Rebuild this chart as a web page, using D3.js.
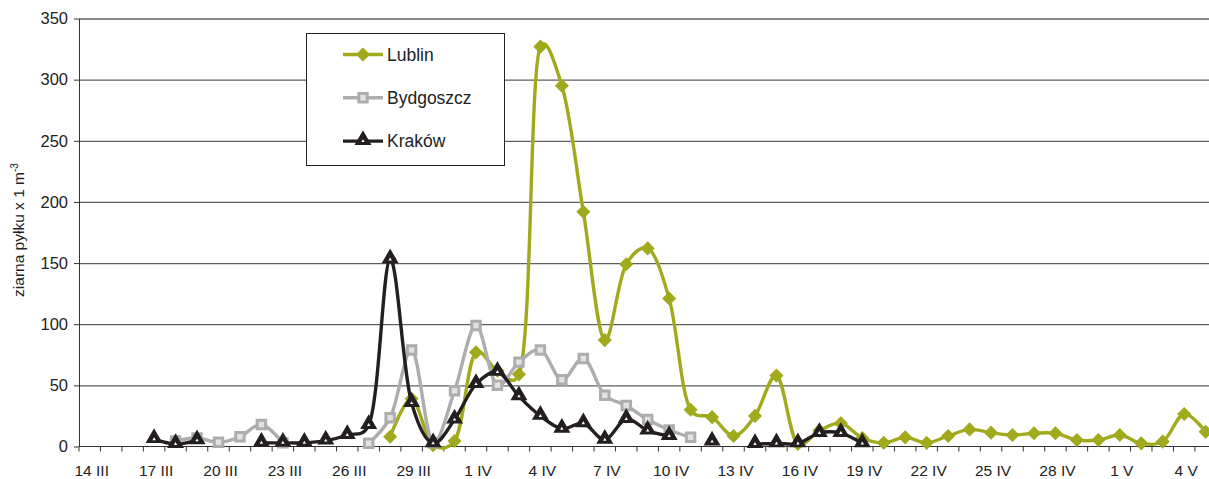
<!DOCTYPE html>
<html lang="pl">
	<head>
		<meta charset="UTF-8" />
		<title>Pyłek</title>
		<script src="https://d3js.org/d3.v7.min.js"></script>
		<style>
			body { margin: 0; background: #fff; }
			svg { display: block; font-family: "Liberation Sans", Arial, sans-serif; }
		</style>
	</head>
	<body>
		<svg id="chart"></svg>
		<script>
			// days 14 III .. 5 V
			var days = [
				"14 III", "15 III", "16 III", "17 III", "18 III", "19 III", "20 III", "21 III", "22 III", "23 III",
				"24 III", "25 III", "26 III", "27 III", "28 III", "29 III", "30 III", "31 III",
				"1 IV", "2 IV", "3 IV", "4 IV", "5 IV", "6 IV", "7 IV", "8 IV", "9 IV", "10 IV",
				"11 IV", "12 IV", "13 IV", "14 IV", "15 IV", "16 IV", "17 IV", "18 IV", "19 IV", "20 IV",
				"21 IV", "22 IV", "23 IV", "24 IV", "25 IV", "26 IV", "27 IV", "28 IV", "29 IV", "30 IV",
				"1 V", "2 V", "3 V", "4 V", "5 V"
			];
			// labelled every 3rd day
			var tickLabels = days.filter(function (d, i) { return i % 3 === 0; });
			var yTicks = [0, 50, 100, 150, 200, 250, 300, 350];

			var lublin = [
				null, null, null, null, null, null, null, null, null, null,
				null, null, null, null, 8, 39, 1, 4.5,
				77, 62, 59, 327, 295, 192, 87, 149, 162, 121,
				30, 24, 8.6, 25, 58, 2, 13, 19, 7, 3,
				7.5, 3, 8.6, 14, 11.3, 9.4, 10.8, 10.8, 5.3, 5.3,
				9.4, 2.6, 4, 26.6, 12
			];
			var bydgoszcz = [
				null, null, null, null, 4.5, 7, 3.4, 8, 18, 3,
				null, null, null, 2.6, 23.6, 79, 3, 45.5,
				99, 50, 69, 79, 54.5, 72, 42, 33.5, 22, 13.5,
				7.5, null, null, null, null, null, null, null, null, null,
				null, null, null, null, null, null, null, null, null, null,
				null, null, null, null, null
			];
			var krakow = [
				null, null, null, 6, 2, 5, null, null, 3, 3,
				3, 4.8, 9.4, 17.6, 153, 35.5, 2.6, 22,
				51, 61, 41, 25, 14.5, 19, 5.5, 22.5, 13, 8.6,
				null, 4, null, 2, 2.5, 2.5, 11, 11, 2.5, null,
				null, null, null, null, null, null, null, null, null, null,
				null, null, null, null, null
			];

			var seriesNames = ["Lublin", "Bydgoszcz", "Kraków"];
			var seriesValues = [lublin, bydgoszcz, krakow];
			var colors = ["#a0aa1c", "#adadad", "#231f20"];

			var width = 1209;
			var height = 479;
			var plotLeft = 79;
			var plotTop = 18.5;
			var plotBottom = 446.5;
			var step = 21.46;

			var svg = d3.select("#chart").attr("width", width).attr("height", height);

			var x = d3.scaleBand().domain(days).range([plotLeft, plotLeft + step * days.length]).padding(0);
			var y = d3.scaleLinear().domain([0, 350]).range([plotBottom, plotTop]);
			var cx = function (i) { return x(days[i]) + x.bandwidth() / 2; };

			// gridlines
			svg.append("g")
				.attr("transform", "translate(" + plotLeft + ",0)")
				.call(d3.axisLeft(y).tickValues(yTicks.slice(1)).tickSize(-(width - plotLeft)).tickFormat(""))
				.call(function (g) {
					g.select(".domain").remove();
					g.selectAll("line").attr("stroke", "#5f5f5f").attr("stroke-width", 1.3);
				});

			// y axis
			svg.append("g")
				.attr("transform", "translate(" + plotLeft + ",0)")
				.call(d3.axisLeft(y).tickValues(yTicks).tickSize(5).tickSizeOuter(0).tickPadding(6))
				.call(function (g) {
					g.select(".domain").attr("stroke", "#333");
					g.selectAll("line").attr("stroke", "#333");
					g.selectAll("text").attr("font-size", 16.5).attr("fill", "#222")
						.attr("font-family", "Liberation Sans, Arial, sans-serif");
				});

			// x axis: ticks between categories
			svg.append("g")
				.attr("transform", "translate(0," + plotBottom + ")")
				.call(d3.axisBottom(x).tickSize(5).tickSizeOuter(0).tickFormat(""))
				.call(function (g) {
					g.select(".domain").attr("stroke", "#333").attr("d", "M" + plotLeft + ",0H" + width);
					g.selectAll(".tick line").attr("stroke", "#333").attr("x1", -step / 2).attr("x2", -step / 2);
				});

			svg.append("g")
				.attr("transform", "translate(2," + plotBottom + ")")
				.call(d3.axisBottom(x).tickValues(tickLabels).tickSize(0).tickPadding(18))
				.call(function (g) {
					g.select(".domain").remove();
					g.selectAll("text").attr("font-size", 15.5).attr("fill", "#222")
						.attr("font-family", "Liberation Sans, Arial, sans-serif");
				});

			// y title
			var yt = svg.append("text")
				.attr("transform", "translate(24,230) rotate(-90)")
				.attr("text-anchor", "middle")
				.attr("font-size", 15.5)
				.attr("fill", "#222");
			yt.append("tspan").text("ziarna pyłku x 1 m");
			yt.append("tspan").attr("dy", -6).attr("font-size", 10).text("-3");

			var line = d3.line()
				.defined(function (d) { return d != null; })
				.x(function (d, i) { return cx(i); })
				.y(function (d) { return y(d); })
				.curve(d3.curveCatmullRom.alpha(0.3));

			function drawMarker(sel, k) {
				if (k === 0) {
					sel.append("path").attr("d", d3.symbol().type(d3.symbolSquare).size(72)())
						.attr("transform", "rotate(45)")
						.attr("fill", colors[0]).attr("stroke", colors[0]).attr("stroke-width", 1.5);
				} else if (k === 1) {
					sel.append("path").attr("d", d3.symbol().type(d3.symbolSquare).size(72)())
						.attr("fill", "#e2e2e2").attr("stroke", colors[1]).attr("stroke-width", 3);
				} else {
					sel.append("path").attr("d", d3.symbol().type(d3.symbolTriangle).size(70)())
						.attr("transform", "translate(0,-1)")
						.attr("fill", colors[2]).attr("stroke", colors[2]).attr("stroke-width", 2.5)
						.attr("stroke-linejoin", "miter");
					sel.append("path").attr("d", d3.symbol().type(d3.symbolTriangle).size(5)())
						.attr("fill", "#fff");
				}
			}

			seriesValues.forEach(function (vals, k) {
				var g = svg.append("g");
				g.append("path")
					.datum(vals)
					.attr("fill", "none")
					.attr("stroke", colors[k])
					.attr("stroke-width", 3.4)
					.attr("d", line);
				vals.forEach(function (v, i) {
					if (v == null) return;
					var m = g.append("g").attr("transform", "translate(" + cx(i) + "," + y(v) + ")");
					drawMarker(m, k);
				});
			});

			// legend
			var leg = svg.append("g");
			leg.append("rect")
				.attr("x", 306.5).attr("y", 33.5).attr("width", 198).attr("height", 132)
				.attr("fill", "#fff").attr("stroke", "#222").attr("stroke-width", 1);
			seriesNames.forEach(function (name, k) {
				var ly = 54.5 + k * 43.3;
				leg.append("line")
					.attr("x1", 343).attr("x2", 383).attr("y1", ly).attr("y2", ly)
					.attr("stroke", colors[k]).attr("stroke-width", 3.4);
				drawMarker(leg.append("g").attr("transform", "translate(363," + ly + ")"), k);
				leg.append("text")
					.attr("x", 387).attr("y", ly + 6)
					.attr("font-size", 17.5).attr("fill", "#222")
					.text(name);
			});
		</script>
	</body>
</html>
